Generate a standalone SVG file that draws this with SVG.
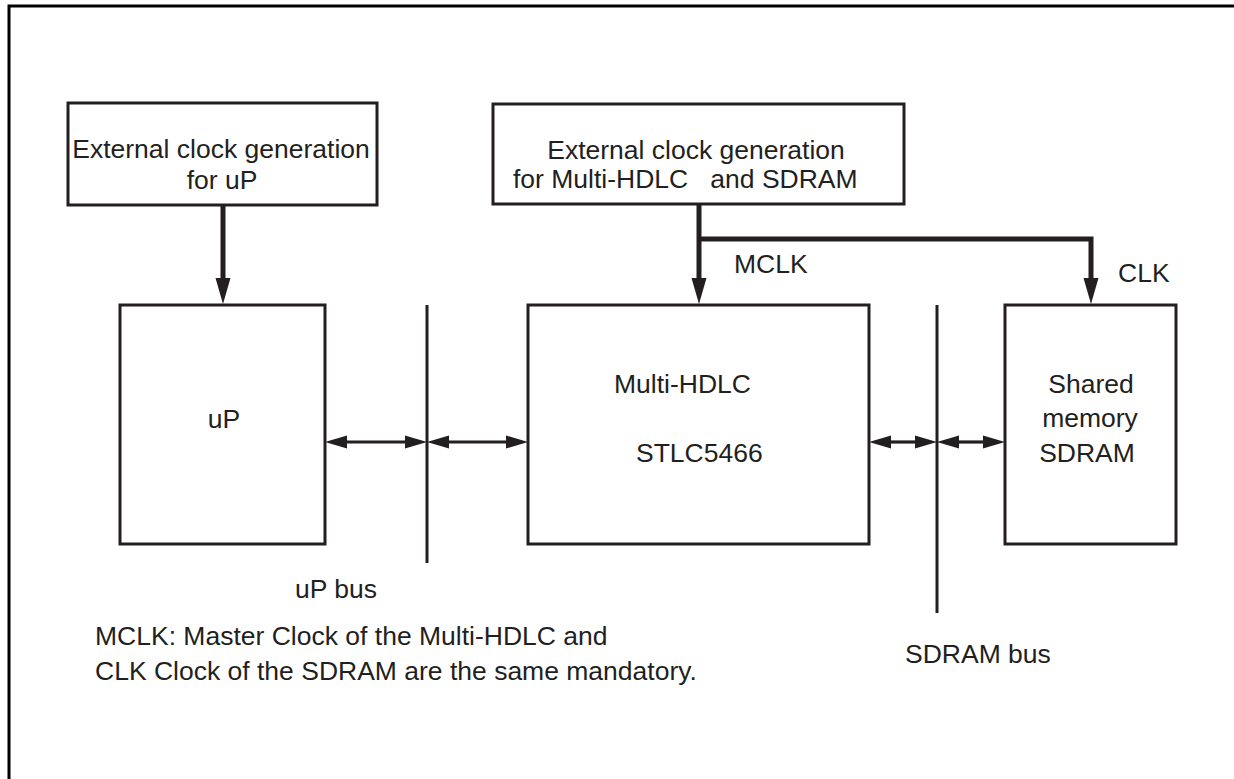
<svg xmlns="http://www.w3.org/2000/svg" width="1234" height="779" viewBox="0 0 1234 779">
<style>
  .box{fill:#fff;stroke:#231f20;stroke-width:3}
  .t{font-family:"Liberation Sans",Arial,sans-serif;font-size:26.5px;fill:#231f20}
  .c{text-anchor:middle}
  .clk{fill:none;stroke:#231f20;stroke-width:5;stroke-linejoin:miter}
  .bus{fill:none;stroke:#231f20;stroke-width:3}
  .dbl{fill:none;stroke:#231f20;stroke-width:3.2}
</style>
<defs>
  <marker id="bigHead" markerUnits="userSpaceOnUse" markerWidth="26" markerHeight="15" refX="0" refY="7.5" orient="auto" overflow="visible">
    <path d="M0,0 L26,7.5 L0,15 z" fill="#231f20"/>
  </marker>
  <marker id="smallHead" markerUnits="userSpaceOnUse" markerWidth="22" markerHeight="13" refX="0" refY="6.5" orient="auto-start-reverse" overflow="visible">
    <path d="M0,0 L22,6.5 L0,13 z" fill="#231f20"/>
  </marker>
</defs>
<rect width="1234" height="779" fill="#fff"/>
<rect id="frame" x="9" y="6" width="1240" height="790" fill="none" stroke="#000" stroke-width="3"/>

<g id="connectors">
  <path class="clk" d="M223,205 V278" marker-end="url(#bigHead)"/>
  <path class="clk" d="M699,204 V278" marker-end="url(#bigHead)"/>
  <path class="clk" d="M699,239 H1091 V278" marker-end="url(#bigHead)"/>
  <line class="bus" x1="427" y1="305" x2="427" y2="563"/>
  <line class="bus" x1="937" y1="305" x2="937" y2="613"/>
  <line class="dbl" x1="347" y1="442" x2="405" y2="442" marker-start="url(#smallHead)" marker-end="url(#smallHead)"/>
  <line class="dbl" x1="449" y1="442" x2="506" y2="442" marker-start="url(#smallHead)" marker-end="url(#smallHead)"/>
  <line class="dbl" x1="891" y1="442" x2="915" y2="442" marker-start="url(#smallHead)" marker-end="url(#smallHead)"/>
  <line class="dbl" x1="959" y1="442" x2="983" y2="442" marker-start="url(#smallHead)" marker-end="url(#smallHead)"/>
  <text class="t" x="734" y="273">MCLK</text>
  <text class="t" x="1118" y="282">CLK</text>
</g>

<g id="clkgen-up">
  <rect class="box" x="68" y="103" width="309" height="102"/>
  <text class="t c" x="221" y="158">External clock generation</text>
  <text class="t c" x="222" y="189">for uP</text>
</g>

<g id="clkgen-hdlc">
  <rect class="box" x="493" y="104" width="411" height="100"/>
  <text class="t c" x="696" y="159">External clock generation</text>
  <text class="t" x="513" y="188" xml:space="preserve">for Multi-HDLC   and SDRAM</text>
</g>

<g id="up">
  <rect class="box" x="120" y="305" width="205" height="239"/>
  <text class="t c" x="224" y="428">uP</text>
</g>

<g id="hdlc">
  <rect class="box" x="528" y="305" width="341" height="239"/>
  <text class="t" x="614" y="393">Multi-HDLC</text>
  <text class="t" x="636" y="462">STLC5466</text>
</g>

<g id="sdram">
  <rect class="box" x="1005" y="305" width="171" height="239"/>
  <text class="t c" x="1091" y="393">Shared</text>
  <text class="t c" x="1090" y="427">memory</text>
  <text class="t c" x="1087" y="462">SDRAM</text>
</g>

<g id="labels">
  <text class="t" x="295" y="598">uP bus</text>
  <text class="t" x="905" y="663">SDRAM bus</text>
  <text class="t" x="95" y="645">MCLK: Master Clock of the Multi-HDLC and</text>
  <text class="t" x="95" y="680">CLK Clock of the SDRAM are the same mandatory.</text>
</g>
</svg>
